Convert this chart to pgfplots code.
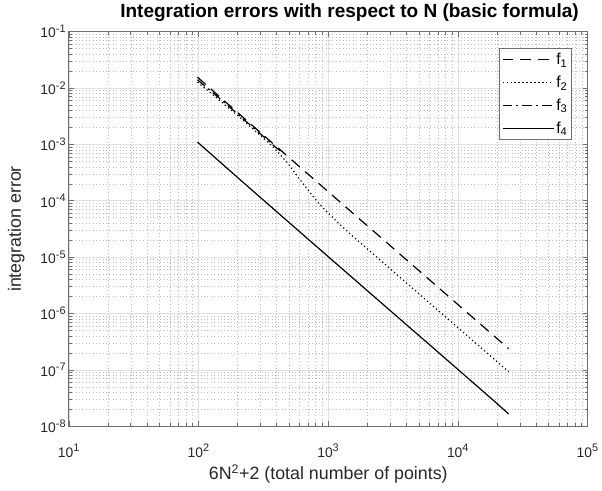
\documentclass[border=0pt]{standalone}
\usepackage{fontspec}
\setmainfont{Liberation Sans}
\usepackage{pgfplots}
\pgfplotsset{compat=1.18}
\definecolor{axgray}{RGB}{38,38,38}
\definecolor{framegray}{RGB}{110,110,110}
\definecolor{gridmaj}{RGB}{224,224,224}
\definecolor{gridmin}{RGB}{188,188,188}
\newcommand{\tl}[1]{10\textsuperscript{\fontsize{11}{12}\selectfont #1}}
\begin{document}
\begin{tikzpicture}
\begin{axis}[
  name=ax,
  xmode=log, ymode=log,
  scale only axis, width=522bp, height=397bp,
  xmin=10, xmax=1e5, ymin=1e-8, ymax=1e-1,
  axis line style={draw=framegray, line width=0.9bp},
  tick style={draw=framegray, line width=0.6bp},
  major tick length=5bp, minor tick length=3bp,
  tick align=inside,
  xtick={10,100,1000,10000,100000},
  xticklabels={\tl{1},\tl{2},\tl{3},\tl{4},\tl{5}},
  ytick={1e-8,1e-7,1e-6,1e-5,1e-4,1e-3,1e-2,1e-1},
  yticklabels={\tl{-8},\tl{-7},\tl{-6},\tl{-5},\tl{-4},\tl{-3},\tl{-2},\tl{-1}},
  minor xtick={20,30,40,50,60,70,80,90,200,300,400,500,600,700,800,900,2000,3000,4000,5000,6000,7000,8000,9000,20000,30000,40000,50000,60000,70000,80000,90000},
  minor ytick={2e-8,3e-8,4e-8,5e-8,6e-8,7e-8,8e-8,9e-8,2e-7,3e-7,4e-7,5e-7,6e-7,7e-7,8e-7,9e-7,2e-6,3e-6,4e-6,5e-6,6e-6,7e-6,8e-6,9e-6,2e-5,3e-5,4e-5,5e-5,6e-5,7e-5,8e-5,9e-5,2e-4,3e-4,4e-4,5e-4,6e-4,7e-4,8e-4,9e-4,2e-3,3e-3,4e-3,5e-3,6e-3,7e-3,8e-3,9e-3,2e-2,3e-2,4e-2,5e-2,6e-2,7e-2,8e-2,9e-2},
  grid=both,
  major grid style={draw=gridmaj, line width=0.7bp},
  minor grid style={draw=gridmin, line width=0.5bp, dash pattern=on 0.8bp off 2.6bp},
  xticklabel style={font=\fontsize{14}{15}\selectfont, text=axgray, anchor=base, yshift=-31bp},
  yticklabel style={font=\fontsize{14}{15}\selectfont, text=axgray, anchor=east, inner sep=0pt, xshift=-2.6bp},
  title={Integration errors with respect to N (basic formula)},
  title style={font=\fontsize{19.2}{21}\selectfont\bfseries, text=black, at={(axis description cs:0.541,1.0219)}, anchor=base},
  xlabel={6N\textsuperscript{2}+2 (total number of points)},
  xlabel style={font=\fontsize{18}{20}\selectfont, text=axgray, at={(axis description cs:0.5,-0.1343)}, anchor=base},
  ylabel={integration error},
  ylabel style={font=\fontsize{18}{20}\selectfont, text=axgray, at={(axis description cs:-0.0925,0.5)}, anchor=base, rotate=0},
  legend style={at={(rel axis cs:0.9703,0.958)}, anchor=north east, draw=framegray, line width=0.9bp, fill=white,
    font=\fontsize{16}{17}\selectfont, inner xsep=3bp, inner ysep=3bp, row sep=7bp,
    nodes={inner sep=1.5bp}},
  legend cell align=left,
  legend image code/.code={\draw[#1, line width=1.2bp] (0bp,0bp) -- (52bp,0bp);},
  every axis plot/.append style={black, line width=1.2bp},
]
\addplot[dash pattern=on 11bp off 7bp] coordinates {
(98,1.56e-2)(152,6.39e-3)(218,3.08e-3)(296,1.663e-3)(386,9.75e-4)(488,6.09e-4)(602,3.99e-4)(728,2.73e-4)(866,1.926e-4)(1178,1.040e-4)(1538,6.09e-5)(1946,3.80e-5)(2402,2.50e-5)(3458,1.204e-5)(4706,6.50e-6)(6146,3.81e-6)(9602,1.56e-6)(13826,7.52e-7)(18818,4.06e-7)(24578,2.38e-7)};
\addlegendentry{f\textsubscript{1}}
\addplot[dash pattern=on 1.2bp off 2.8bp] coordinates {
(98,1.27e-2)(152,5.57e-3)(218,2.74e-3)(296,1.48e-3)(386,8.49e-4)(488,4.62e-4)(602,2.41e-4)(728,1.37e-4)(866,8.41e-5)(1178,4.14e-5)(1538,2.37e-5)(1946,1.48e-5)(2402,9.72e-6)(3458,4.68e-6)(4706,2.53e-6)(6146,1.48e-6)(9602,6.07e-7)(13826,2.92e-7)(18818,1.58e-7)(24578,9.26e-8)};
\addlegendentry{f\textsubscript{2}}
\addplot[dash pattern=on 10bp off 4bp on 2bp off 4bp] coordinates {
(98,1.40e-2)(152,6.0e-3)(218,2.9e-3)(296,1.58e-3)(386,9.2e-4)(430,7.6e-4)};
\addlegendentry{f\textsubscript{3}}
\addplot[solid] coordinates {
(98,1.10e-3)(152,4.51e-4)(218,2.17e-4)(296,1.173e-4)(386,6.88e-5)(488,4.29e-5)(602,2.82e-5)(728,1.92e-5)(866,1.36e-5)(1178,7.33e-6)(1538,4.30e-6)(1946,2.68e-6)(2402,1.76e-6)(3458,8.49e-7)(4706,4.58e-7)(6146,2.69e-7)(9602,1.10e-7)(13826,5.30e-8)(18818,2.86e-8)(24578,1.65e-8)};
\addlegendentry{f\textsubscript{4}}
\end{axis}
\path[use as bounding box] ([xshift=-69.3bp,yshift=-64.3bp]ax.south west) rectangle ([xshift=10.5bp,yshift=25.7bp]ax.north east);
\end{tikzpicture}
\end{document}
